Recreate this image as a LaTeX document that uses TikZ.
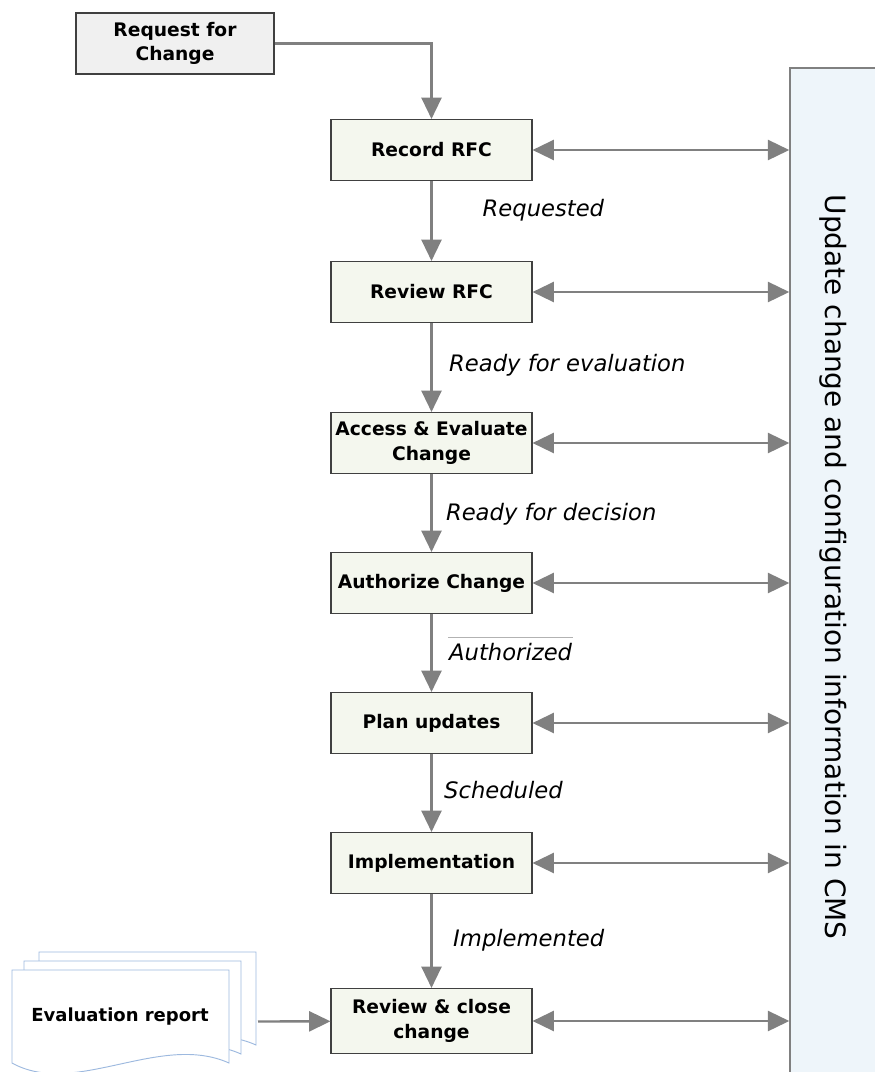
\documentclass[tikz,border=0pt]{standalone}
\usepackage{fontspec}
\setmainfont{DejaVu Sans}
\usepackage{tikz}
\usetikzlibrary{arrows.meta}
\definecolor{stepfill}{RGB}{244,247,238}
\definecolor{rfcfill}{RGB}{240,240,240}
\definecolor{cmsfill}{RGB}{238,245,250}
\definecolor{flowgray}{RGB}{128,128,128}
\definecolor{docblue}{RGB}{157,185,223}

\begin{document}
\begin{tikzpicture}[x=0.75pt, y=-0.75pt, node distance=105pt,
    >={Triangle[length=16pt,width=15pt]},
    box/.style={draw=black!75,line width=0.8pt,fill=stepfill,minimum width=150.75pt,minimum height=45.75pt,
      inner sep=2pt,align=center,font=\bfseries\fontsize{14}{18.5}\selectfont},
    flow/.style={draw=flowgray,line width=1.8pt},
    lbl/.style={anchor=west,inner sep=0pt,font=\itshape\fontsize{17}{20}\selectfont}]

    \useasboundingbox (0,0) rectangle (875,1072);
    \clip (0,0) rectangle (875,1072);

    % CMS panel on the right
    \node[draw=flowgray,line width=1.1pt,fill=cmsfill,minimum width=71.25pt,minimum height=762.75pt] (cms) at (837.5,576.5) {};
    \node[rotate=-90,font=\fontsize{21}{25}\selectfont] (cmstxt) at (833,567) {Update change and configuration information in CMS};

    % evaluation report, three stacked pages
    \foreach \dx/\dy in {27/18,12/9,0/0}
      \draw[docblue,line width=0.7pt,fill=white] (12+\dx,1063-\dy) -- (12+\dx,970-\dy) -- (229+\dx,970-\dy) -- (229+\dx,1063-\dy)
        .. controls (160+\dx,1032-\dy) and (75+\dx,1098-\dy) .. (12+\dx,1063-\dy) -- cycle;
    \node[font=\bfseries\fontsize{13.5}{16}\selectfont] (evrep) at (120,1017) {Evaluation report};
    \coordinate (docr) at (258,1021.5);

    \node[box,fill=rfcfill,minimum width=148.5pt] (req) at (175,43.5) {Request for\\Change};
    \node[box] (rec) at (431.5,150) {Record RFC};
    \node[box,below of=rec,node distance=106.5pt] (rev) {Review RFC};
    \node[box,below of=rev,node distance=113.25pt] (acc) {Access \& Evaluate\\Change};
    \node[box,below of=acc] (auth) {Authorize Change};
    \node[box,below of=auth] (plan) {Plan updates};
    \node[box,below of=plan] (impl) {Implementation};
    \node[box,below of=impl,node distance=118.5pt,minimum height=48.75pt] (revcl) {Review \& close\\change};

    \draw[flow,->] (req.east) -| (rec.north);
    \draw[flow,->] (rec) -- node[lbl,pos=0.37,xshift=37.5pt] {Requested} (rev);
    \draw[flow,->] (rev) -- node[lbl,pos=0.47,xshift=12.4pt] {Ready for evaluation} (acc);
    \draw[flow,->] (acc) -- node[lbl,pos=0.51,xshift=10pt] {Ready for decision} (auth);
    \draw[flow,->] (auth) -- node[lbl,pos=0.49,xshift=12.4pt] (authlbl) {Authorized} (plan);
    \draw[flow,->] (plan) -- node[lbl,pos=0.46,xshift=8.6pt] {Scheduled} (impl);
    \draw[flow,->] (impl) -- node[lbl,pos=0.49,xshift=15.4pt] {Implemented} (revcl);
    \draw[black!30,line width=0.4pt] ([yshift=4pt]authlbl.north west) -- ([yshift=4pt]authlbl.north east);
    \draw[flow,->] (docr) -- (revcl);

    \foreach \n in {rec,rev,acc,auth,plan,impl,revcl}
      \draw[flow,<->] (\n.east) -- (\n.east -| cms.west);
  \end{tikzpicture}
\end{document}
